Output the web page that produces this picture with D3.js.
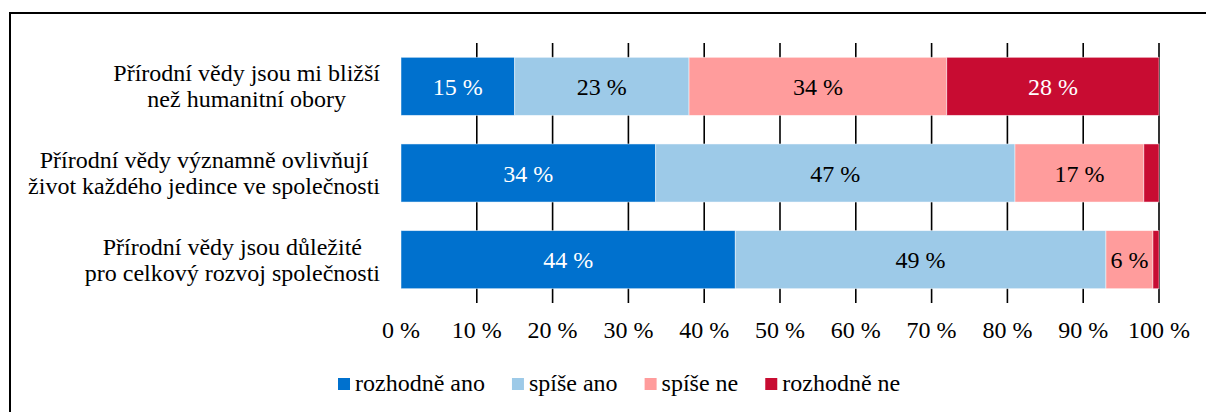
<!DOCTYPE html>
<html>
<head>
<meta charset="utf-8">
<script src="https://cdn.jsdelivr.net/npm/d3@7"></script>
<style>
  body { margin: 0; background: #fff; }
</style>
</head>
<body>
<svg id="chart" width="1206" height="412"></svg>
<script>
const svg = d3.select("svg#chart");
const width = +svg.attr("width");
const height = +svg.attr("height");
const FONT = 24;
const FAMILY = "'Liberation Serif'";

// data
const categories = [
  ["Přírodní vědy jsou mi bližší", "než humanitní obory"],
  ["Přírodní vědy významně ovlivňují", "život každého jedince ve společnosti"],
  ["Přírodní vědy jsou důležité", "pro celkový rozvoj společnosti"]
];
const series = ["rozhodně ano", "spíše ano", "spíše ne", "rozhodně ne"];
const rozhodneAno = [15, 33.6, 44.1];
const spiseAno = [23, 47.4, 48.9];
const spiseNe = [34, 17, 6.2];
const rozhodneNe = [28, 2, 0.8];
const ticks = [0, 10, 20, 30, 40, 50, 60, 70, 80, 90, 100];

const colors = ["#0071ce", "#9dcae8", "#ff9c9c", "#c80c32"];
const labelColors = ["#fff", "#000", "#000", "#fff"];

const rows = categories.map((c, i) => ({
  idx: i,
  values: [rozhodneAno[i], spiseAno[i], spiseNe[i], rozhodneNe[i]]
}));

// outer frame (runs off the right / bottom edge)
svg.append("rect")
  .attr("x", 10).attr("y", 13)
  .attr("width", width + 20).attr("height", height + 20)
  .attr("fill", "none").attr("stroke", "#000").attr("stroke-width", 2);

const x = d3.scaleLinear().domain([0, 100]).range([401, 1159]);
const y = d3.scaleBand()
  .domain(d3.range(categories.length))
  .range([43, 303])
  .paddingInner(0.33)
  .paddingOuter(0.165);

// gridlines
svg.append("g")
  .selectAll("line")
  .data(ticks.filter(t => t > 0))
  .enter().append("line")
    .attr("x1", d => x(d)).attr("x2", d => x(d))
    .attr("y1", 43).attr("y2", 303)
    .attr("stroke", "#000").attr("stroke-width", 1.6);

// tick labels
svg.append("g")
  .selectAll("text")
  .data(ticks)
  .enter().append("text")
    .attr("x", d => x(d))
    .attr("y", 338)
    .attr("text-anchor", "middle")
    .attr("font-size", FONT)
    .style("font-family", FAMILY)
    .attr("fill", "#000")
    .text(d => d + " %");

// stacked bars
const stack = rows.map(r => {
  let acc = 0;
  return r.values.map((v, k) => {
    const s = { row: r.idx, k: k, v: v, x0: acc, x1: acc + v };
    acc += v;
    return s;
  });
});

const barG = svg.append("g")
  .selectAll("g")
  .data(stack)
  .enter().append("g");

barG.selectAll("rect")
  .data(d => d)
  .enter().append("rect")
    .attr("x", d => x(d.x0))
    .attr("y", d => y(d.row))
    .attr("width", d => x(d.x1) - x(d.x0))
    .attr("height", y.bandwidth())
    .attr("fill", d => colors[d.k])
    .attr("stroke", "#fff")
    .attr("stroke-opacity", 0.6)
    .attr("stroke-width", 0.8);

barG.selectAll("text")
  .data(d => d.filter(s => s.v >= 5))
  .enter().append("text")
    .attr("x", d => (x(d.x0) + x(d.x1)) / 2)
    .attr("y", d => y(d.row) + y.bandwidth() / 2)
    .attr("dy", "0.36em")
    .attr("text-anchor", "middle")
    .attr("font-size", FONT)
    .style("font-family", FAMILY)
    .attr("fill", d => labelColors[d.k])
    .text(d => Math.round(d.v) + " %");

// category labels: lines centred within a block that is right aligned to the axis
const catG = svg.append("g")
  .selectAll("g")
  .data(categories)
  .enter().append("g");

catG.each(function(lines, i) {
  const g = d3.select(this);
  const txt = g.selectAll("text")
    .data(lines)
    .enter().append("text")
      .attr("font-size", FONT)
      .style("font-family", FAMILY)
      .attr("fill", "#000")
      .attr("text-anchor", "middle")
      .attr("y", (d, j) => y(i) + y.bandwidth() / 2 + (j - 0.5) * 26)
      .attr("dy", "0.33em")
      .text(d => d);
  let maxW = 0;
  txt.each(function() { maxW = Math.max(maxW, this.getComputedTextLength()); });
  txt.attr("x", 380 - maxW / 2);
});

// legend
const legend = svg.append("g");
const items = legend.selectAll("g")
  .data(series)
  .enter().append("g");
items.append("rect")
  .attr("width", 12).attr("height", 12)
  .attr("y", 378)
  .attr("fill", (d, i) => colors[i]);
items.append("text")
  .attr("x", 17)
  .attr("y", 391)
  .attr("font-size", FONT)
  .style("font-family", FAMILY)
  .attr("fill", "#000")
  .text(d => d);
let lx = 338;
items.each(function() {
  const w = d3.select(this).select("text").node().getComputedTextLength();
  d3.select(this).attr("transform", "translate(" + lx + ",0)");
  lx += 17 + w + 27;
});
</script>
</body>
</html>
